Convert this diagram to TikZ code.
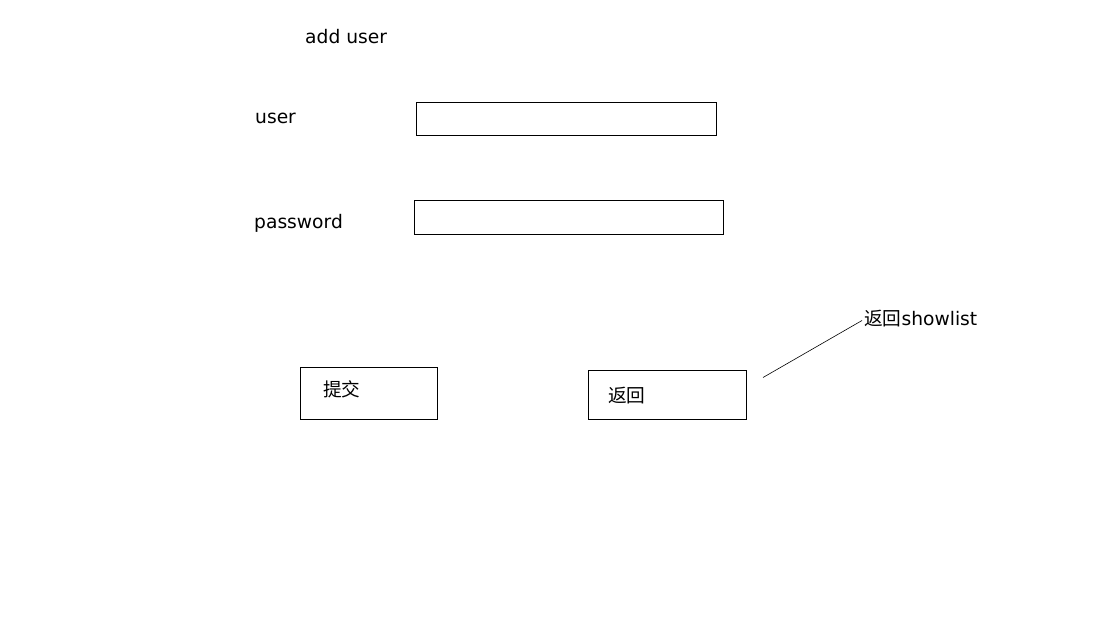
\documentclass[tikz,border=0pt]{standalone}
\usepackage{fontspec}
\setmainfont{DejaVu Sans}
\newfontfamily\cjk{Noto Sans CJK SC}
\begin{document}
\begin{tikzpicture}[x=1pt,y=-1pt,
  lbl/.style={inner sep=0pt,anchor=base west,font=\fontsize{18.67}{22}\selectfont},
  field/.style={draw,line width=0.9pt,anchor=north west,inner sep=0pt,outer sep=0pt},
  conn/.style={draw,line width=0.6pt}]
\useasboundingbox (0,0) rectangle (1100,635);
\node[lbl] (title) at (305,43.5) {add user};
\node[lbl] (ulbl) at (255,123) {user};
\node[lbl] (plbl) at (254,228) {password};
\node[field,minimum width=300pt,minimum height=33pt] (ubox) at (416,102) {};
\node[field,minimum width=309pt,minimum height=34pt] (pbox) at (414,200) {};
\node[field,minimum width=137pt,minimum height=52pt] (sbox) at (300,367) {};
\node[field,minimum width=158pt,minimum height=49pt] (rbox) at (588,370) {};
\node[lbl,font=\cjk\fontsize{18.67}{22}\selectfont] (stxt) at (323,396.5) {提交};
\node[lbl,font=\cjk\fontsize{18.67}{22}\selectfont] (rtxt) at (608,402.5) {返回};
\node[lbl] (sl) at (864,325.5) {{\cjk 返回}showlist};
\coordinate (ls) at (763,377.5);
\coordinate (le) at (862,320.5);
\draw[conn] (ls) -- (le);
\end{tikzpicture}
\end{document}
